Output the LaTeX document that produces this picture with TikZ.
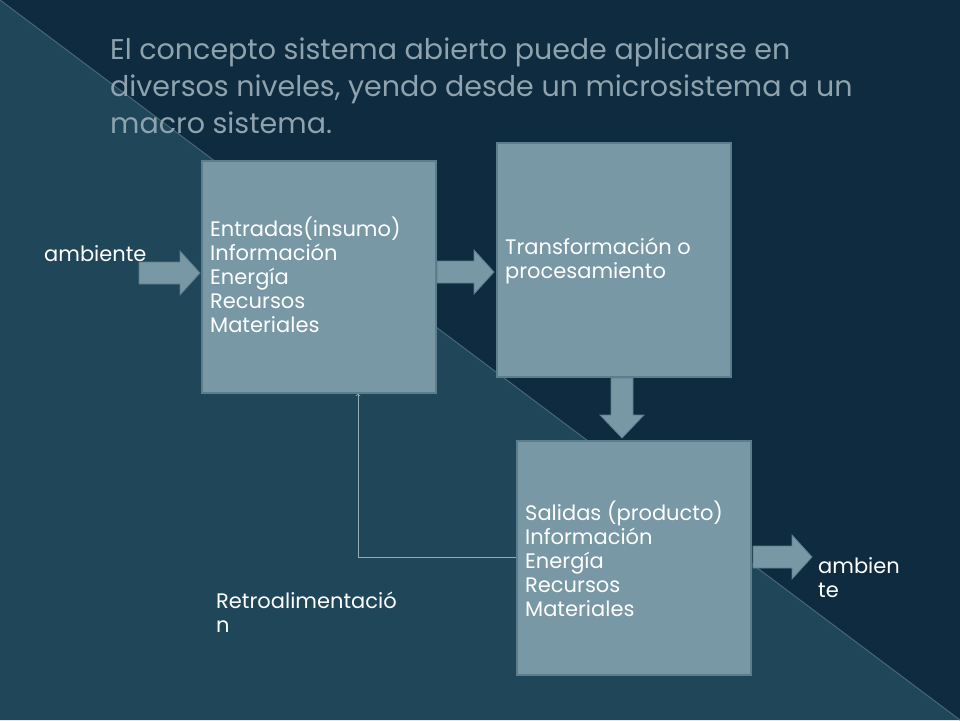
\documentclass[tikz,border=0pt]{standalone}
\usepackage{fontspec}
\setmainfont{Poppins}
\begin{document}
\begin{tikzpicture}[x=1pt,y=-1pt,
  box/.style={draw=boxedge,line width=1.5pt,fill=boxfill,minimum width=234pt,anchor=north west,inner sep=0pt},
  btxt/.style={text=white,font=\fontsize{21}{24}\selectfont,align=left,anchor=west,inner sep=0pt},
  barrow/.style={fill=boxfill,draw=boxedge,line width=0.8pt}]
\definecolor{bgdark}{HTML}{0E2B3F}
\definecolor{bglight}{HTML}{1F4659}
\definecolor{boxfill}{HTML}{7898A5}
\definecolor{boxedge}{HTML}{5C7D8B}
\definecolor{titlec}{HTML}{8FA3AE}
\useasboundingbox (0,0) rectangle (960,720);
\fill[bgdark] (0,0) rectangle (960,720);
\fill[bglight] (0,0) -- (960,720) -- (0,720) -- cycle;
\draw[boxedge!70!bgdark,line width=1pt] (0,0) -- (960,720);
\node[anchor=north west,text=titlec,align=left,font=\fontsize{28.5}{37}\selectfont,inner sep=0pt] (title) at (110,38)
 {El concepto sistema abierto puede aplicarse en\\diversos niveles, yendo desde un microsistema a un\\macro sistema.};
\node[box,minimum height=232pt] (in) at (201,160) {};
\node[box,minimum height=234pt] (tr) at (496,142) {};
\node[box,minimum height=234pt] (out) at (516,440) {};
\node[btxt] (intx) at (210,275) {Entradas(insumo)\\Información\\Energía\\Recursos\\Materiales};
\node[btxt] (trtx) at (505,261) {Transformación o\\procesamiento};
\node[btxt] (outtx) at (525,559) {Salidas (producto)\\Información\\Energía\\Recursos\\Materiales};
\node[btxt] (amb1) at (44,254) {ambiente};
\node[btxt] (amb2) at (818,578) {ambien\\te};
\node[btxt] (retro) at (216,612) {Retroalimentació\\n};
% block arrows
\draw[barrow] (139,262) -- (180,262) -- (180,251) -- (200,273) -- (180,295) -- (180,284) -- (139,284) -- cycle;
\draw[barrow] (437,261) -- (474,261) -- (474,250) -- (494,272) -- (474,294) -- (474,283) -- (437,283) -- cycle;
\draw[barrow] (611,378) -- (633,378) -- (633,415) -- (644,415) -- (622,438) -- (600,415) -- (611,415) -- cycle;
\draw[barrow] (753,546) -- (792,546) -- (792,535) -- (812,557) -- (792,579) -- (792,568) -- (753,568) -- cycle;
% feedback
\coordinate (fb) at (358,557);
\draw[boxfill!80!white,line width=0.8pt,->] (out.west |- fb) -- (fb) -- (fb |- in.south);
\end{tikzpicture}
\end{document}
